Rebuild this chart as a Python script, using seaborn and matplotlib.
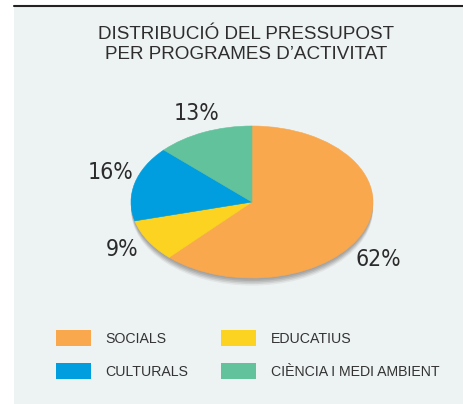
import matplotlib
matplotlib.use("Agg")
import matplotlib.pyplot as plt
from matplotlib import font_manager
from matplotlib.font_manager import FontProperties
from matplotlib.patches import Rectangle, Ellipse
from matplotlib.lines import Line2D
import seaborn as sns

# Budget share per activity programme (percent)
categories = ["SOCIALS", "EDUCATIUS", "CULTURALS", "CIÈNCIA I MEDI AMBIENT"]
shares = [62, 9, 16, 13]
colors = ["#F9A84E", "#FDD322", "#009EDE", "#62C29C"]
title = "DISTRIBUCIÓ DEL PRESSUPOST\nPER PROGRAMES D\u2019ACTIVITAT"

sns.set_theme(style="white")
plt.rcParams["font.family"] = ["Liberation Sans", "DejaVu Sans"]

# look for a narrow sans face for the percentage labels
narrow_file = None
for f in font_manager.fontManager.ttflist:
    stretch = str(f.stretch).lower()
    label = (f.name + " " + f.fname).lower()
    if f.weight in (400, "normal", "regular", "book") and f.style == "normal" and (
            "narrow" in label or "condensed" in label or stretch in ("condensed", "semi-condensed")):
        if "bold" in f.fname.lower() or "oblique" in f.fname.lower() or "italic" in f.fname.lower():
            continue
        narrow_file = f.fname
        break
if narrow_file:
    pct_font = FontProperties(fname=narrow_file, size=16.5)
else:
    pct_font = FontProperties(family="Liberation Sans", size=16)

W, H = 463, 404
fig = plt.figure(figsize=(W / 100, H / 100), dpi=100)
fig.patch.set_facecolor("white")

# panel background and top rule
fig.patches.append(Rectangle((14 / W, 0), 1 - 14 / W, 1 - 6 / H, transform=fig.transFigure,
                             facecolor="#EDF2F2", edgecolor="none", zorder=-5))
fig.add_artist(Line2D([14 / W, 1], [1 - 6 / H, 1 - 6 / H], transform=fig.transFigure,
                      color="#222222", lw=1.5))

fig.text(246 / W, 1 - 44.5 / H, title, ha="center", va="center", fontsize=13.6,
         color="#2e2e2e", linespacing=1.3)

# flattened pie: axes box is wider than tall so the circle becomes an ellipse
ax = fig.add_axes([131 / W, (H - 278) / H, 242 / W, 152 / H])
ax.set_facecolor("none")

# soft drop shadow below the disc
for off, shade in [(0.10, "#e2e5e5"), (0.08, "#d0d2d2"), (0.06, "#bdbfbf"),
                   (0.04, "#adadad"), (0.02, "#a3a3a3")]:
    ax.add_patch(Ellipse((0, -off), 2.0, 2.0, facecolor=shade, edgecolor="none",
                         clip_on=False, zorder=0))

wedges, _ = ax.pie(shares, colors=colors, startangle=90, counterclock=False,
                   radius=1.0, wedgeprops=dict(linewidth=0.4))
for w, c in zip(wedges, colors):
    w.set_edgecolor(c)
    w.set_zorder(2)
    w.set_clip_on(False)
ax.set_aspect("auto")
ax.set_xlim(-1, 1)
ax.set_ylim(-1, 1)
ax.axis("off")

label_pos = [(1.04, -0.75), (-1.07, -0.62), (-1.17, 0.39), (-0.46, 1.17)]
for (x, y), v in zip(label_pos, shares):
    ax.text(x, y, f"{v}%", ha="center", va="center", fontproperties=pct_font,
            color="#2b2b2b", clip_on=False)

# legend in two columns: SOCIALS/CULTURALS, EDUCATIUS/CIÈNCIA
order = [0, 2, 1, 3]
handles = [Rectangle((0, 0), 1, 1, facecolor=colors[i], edgecolor="none") for i in order]
labels = [categories[i] for i in order]
leg = fig.legend(handles, labels, ncol=2, loc="upper left",
                 bbox_to_anchor=(56 / W, 1 - 330 / H), frameon=False,
                 fontsize=10.2, handlelength=2.45, handleheight=1.35,
                 handletextpad=1.05, columnspacing=2.3, labelspacing=1.2,
                 borderpad=0, borderaxespad=0)
for t in leg.get_texts():
    t.set_color("#333333")

fig.savefig("out.png", dpi=100, facecolor=fig.get_facecolor())
